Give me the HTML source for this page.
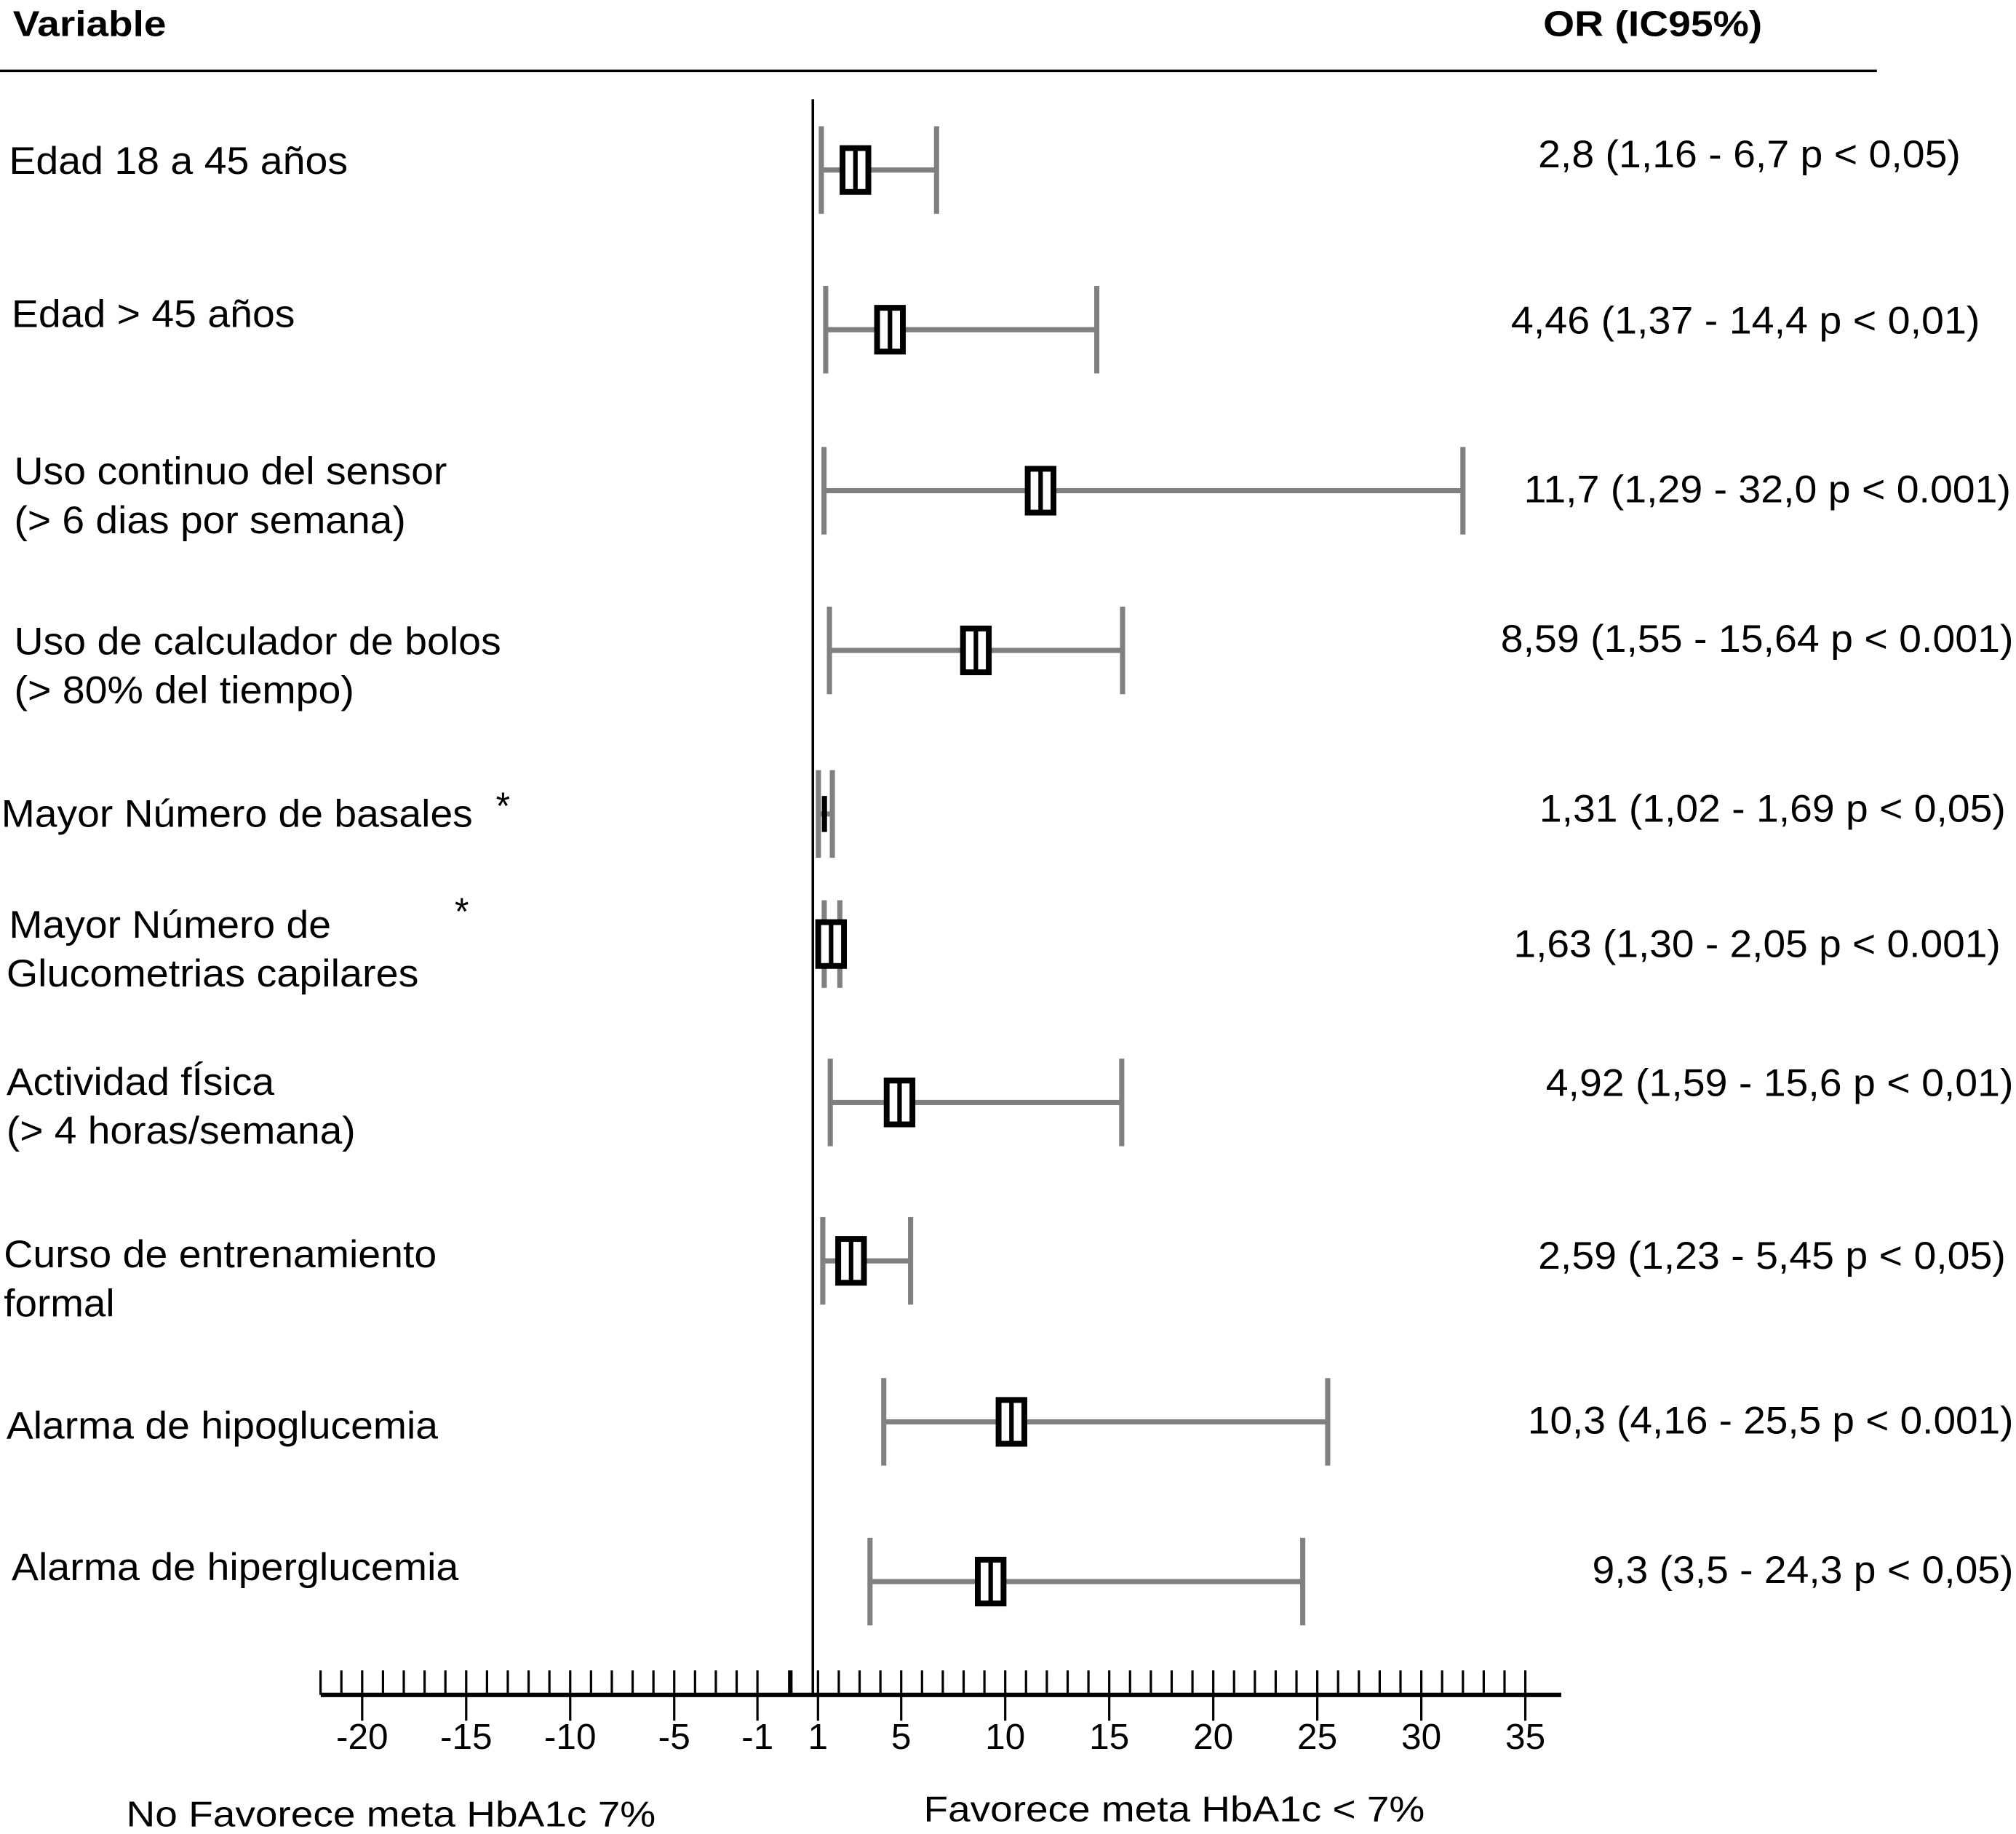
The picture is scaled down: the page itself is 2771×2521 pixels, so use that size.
<!DOCTYPE html>
<html><head><meta charset="utf-8"><style>
html,body{margin:0;padding:0;background:#fff;}
svg{display:block;}
text{font-family:"Liberation Sans",sans-serif;fill:#000;}
</style></head><body>
<svg id="chart" width="2771" height="2521" viewBox="0 0 1565 1424" preserveAspectRatio="none" xmlns="http://www.w3.org/2000/svg">
<rect width="1565" height="1424" fill="#fff"/>
<g>
<text x="10" y="28" font-size="28" font-weight="bold" textLength="119" lengthAdjust="spacingAndGlyphs">Variable</text>
<text x="1198" y="28" font-size="28" font-weight="bold" textLength="170" lengthAdjust="spacingAndGlyphs">OR (IC95%)</text>
<line x1="0" y1="55" x2="1457" y2="55" stroke="#000" stroke-width="2"/>
</g>
<g id="labels"></g>
<g id="values"></g>
<g id="axis"></g>
<g id="marks"></g>
<text x="98" y="1418" font-size="28" textLength="411" lengthAdjust="spacingAndGlyphs">No Favorece meta HbA1c 7%</text>
<text x="717" y="1414" font-size="28" textLength="389" lengthAdjust="spacingAndGlyphs">Favorece meta HbA1c &lt; 7%</text>
</svg>
<script>
const orValues = [2.8, 4.46, 11.7, 8.59, 1.31, 1.63, 4.92, 2.59, 10.3, 9.3];
const ciLow = [1.16, 1.37, 1.29, 1.55, 1.02, 1.30, 1.59, 1.23, 4.16, 3.5];
const ciHigh = [6.7, 14.4, 32.0, 15.64, 1.69, 2.05, 15.6, 5.45, 25.5, 24.3];
const orLabels = ["2,8 (1,16 - 6,7 p < 0,05)","4,46 (1,37 - 14,4 p < 0,01)","11,7 (1,29 - 32,0 p < 0.001)","8,59 (1,55 - 15,64 p < 0.001)","1,31 (1,02 - 1,69 p < 0,05)","1,63 (1,30 - 2,05 p < 0.001)","4,92 (1,59 - 15,6 p < 0,01)","2,59 (1,23 - 5,45 p < 0,05)","10,3 (4,16 - 25,5 p < 0.001)","9,3 (3,5 - 24,3 p < 0,05)"];
const tickLabels = [-20,-15,-10,-5,-1,1,5,10,15,20,25,30,35];

const NS="http://www.w3.org/2000/svg";
function mk(tag, attrs, parent){const e=document.createElementNS(NS,tag);for(const k in attrs)e.setAttribute(k,attrs[k]);parent.appendChild(e);return e;}
function xScale(v){ return v>=1 ? 635+(v-1)*16.15 : 588+(v+1)*16.15; }

const labelLines=[
 [[7,135,"Edad 18 a 45 años",263]],
 [[9,254,"Edad > 45 años",220]],
 [[11,376,"Uso continuo del sensor",336],[11,414,"(> 6 dias por semana)",304]],
 [[11,508,"Uso de calculador de bolos",378],[11,546,"(> 80% del tiempo)",264]],
 [[1,642,"Mayor Número de basales",366],[385,636,"*",11]],
 [[7,728,"Mayor Número de",250],[353,718,"*",11],[5,766,"Glucometrias capilares",320]],
 [[5,850,"Actividad fÍsica",208],[5,888,"(> 4 horas/semana)",271]],
 [[3,984,"Curso de entrenamiento",336],[3,1022,"formal",86]],
 [[5,1117,"Alarma de hipoglucemia",335]],
 [[9,1227,"Alarma de hiperglucemia",347]]
];
const lg=document.getElementById('labels');
labelLines.forEach(lines=>lines.forEach(l=>{
 const t=mk('text',{x:l[0],y:l[1],'font-size':30,textLength:l[3],lengthAdjust:'spacingAndGlyphs'},lg);
 
 
 t.textContent=l[2];
}));
const valPos=[[1194,130,328],[1173,259,364],[1183,390,378],[1165,506,398],[1195,638,362],[1175,743,378],[1200,851,363],[1194,985,363],[1186,1113,377],[1236,1229,327]];
const vg=document.getElementById('values');
orLabels.forEach((s,i)=>{
 const p=valPos[i];
 const t=mk('text',{x:p[0],y:p[1],'font-size':30,textLength:p[2],lengthAdjust:'spacingAndGlyphs'},vg);
 
 
 t.textContent=s;
});

const ag=document.getElementById('axis');
const ref=mk('line',{x1:631,y1:77,x2:631,y2:1316,stroke:'#000','stroke-width':2},ag);


const al=mk('line',{x1:249,y1:1316,x2:1212,y2:1316,stroke:'#000','stroke-width':3.5},ag);


for(let v=-22;v<=35;v++){
 if(v===0) continue;
 const x=xScale(v);
 const major=tickLabels.indexOf(v)>=0;
 const tk=mk('line',{x1:x,y1:1297,x2:x,y2:major?1336:1316,stroke:'#000','stroke-width':1.8},ag);
 
 
}
const bx=(xScale(-1)+xScale(1))/2+2;
const bt=mk('line',{x1:bx,y1:1297,x2:bx,y2:1316,stroke:'#000','stroke-width':3.5},ag);


tickLabels.forEach(v=>{
 const t=mk('text',{x:xScale(v),y:1358,'font-size':28,'text-anchor':'middle'},ag);
 
 
 t.textContent=String(v);
});

const rowY=[132,256,381,505,632,733,856,979,1104,1228];
const mg=document.getElementById('marks');
orValues.forEach((v,i)=>{
 const y=rowY[i], x1=xScale(ciLow[i]), x2=xScale(ciHigh[i]), xc=xScale(v);
 const g=mk('g',{},mg);
 
 
 const ci=mk('line',{x1:x1,y1:y,x2:x2,y2:y,stroke:'#808080','stroke-width':4},g);
 
 
 [x1,x2].forEach(cx=>{
  const c=mk('line',{x1:cx,y1:y-34,x2:cx,y2:y+34,stroke:'#808080','stroke-width':4},g);
  
  
 });
 if(ciHigh[i]-ciLow[i]<0.7){
  const b=mk('rect',{x:xc-2,y:y-14,width:4,height:28,fill:'#000'},g);
  
  
 } else {
  const w=20,h=34;
  const b=mk('rect',{x:xc-w/2,y:y-h/2,width:w,height:h,fill:'#fff',stroke:'#000','stroke-width':4.5},g);
  
  
  const d=mk('line',{x1:xc,y1:y-h/2,x2:xc,y2:y+h/2,stroke:'#000','stroke-width':3.5},g);
  
  
 }
});
</script>
</body></html>
